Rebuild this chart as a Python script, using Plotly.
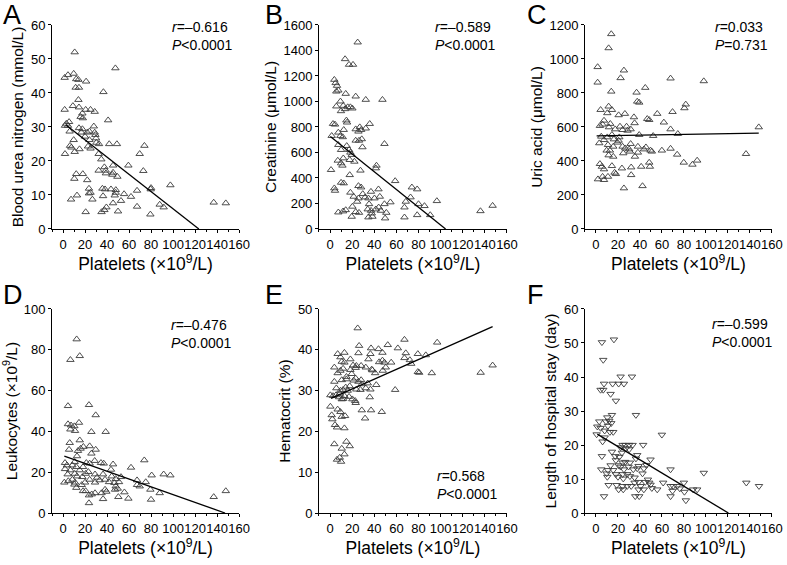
import plotly.graph_objects as go

FONT = "Arial, Liberation Sans, sans-serif"

## Panel A - blood urea nitrogen vs platelets
a_x = [10.6, 1.5, 4.5, 9.7, 12, 14, 21, 11.5, 14.5, 47.6,
       36.7, 14, 9, 14.5, 1.5, 20.6, 25, 28.8, 17.6, 16,
       5.5, 3, 41, 18, 1.8, 4.5, 14.5, 17.6, 28, 6,
       16.7, 22, 24, 28.8, 29.4, 30, 9.7, 20, 24, 30.3,
       32.7, 42, 49, 6.4, 7.6, 15, 22.7, 25, 74, 1.8,
       10.6, 32.4, 69.7, 34.8, 59.4, 45.5, 37.6, 73, 32.4, 38.8,
       45.5, 39, 12, 18, 44.8, 49.4, 10.3, 22, 80, 79.7,
       97.6, 23.6, 35.8, 38.2, 43.6, 25, 47.9, 48, 55.5, 67.3,
       12.7, 23.6, 36.4, 47, 61.8, 7.3, 26.7, 52.7, 45.5, 87.9,
       91.5, 67.3, 39.4, 37.6, 20.6, 35, 50, 79.4, 137, 148]
a_y = [52, 44.5, 45.3, 45.7, 44.1, 43.9, 43.4, 41.6, 41.6, 47.3,
       40.3, 38, 36.2, 35.8, 35.1, 35.1, 35.1, 34.5, 34, 33,
       31.5, 31, 32, 32.6, 30.4, 30.4, 29.7, 29.4, 30.2, 28.7,
       28.4, 28.4, 28.7, 28.4, 27.7, 26.7, 26.2, 27.2, 26.2, 25.4,
       25, 25, 25, 24.5, 24, 23.5, 24.3, 23.7, 24.5, 22.1,
       22.7, 22.1, 22.1, 20.5, 18.7, 18.7, 18.2, 17.1, 17.2, 17.2,
       16.6, 16.4, 16.2, 16.2, 16, 15.4, 14.8, 14.4, 12.1, 11.7,
       12.9, 11.9, 11.9, 11.7, 11.7, 10.7, 10.7, 11.5, 10.3, 11.3,
       9.9, 10.5, 9.7, 9.9, 9.5, 8.7, 8.7, 8.3, 7.6, 7.2,
       6.4, 6.6, 6.4, 5.6, 5, 5, 5.2, 4.3, 7.8, 7.6]
a_fit_x = [3, 123.5]
a_fit_y = [30.5, 0]

## Panel B - creatinine
b_x = [25, 13.6, 17.2, 20.8, 3.9, 5.1, 6.3, 7.5, 5.7, 14.2,
       23.2, 32.3, 47.4, 9.4, 12, 5.7, 16, 18.4, 20.2, 13.6,
       9.9, 14.8, 15.4, 2.7, 4.5, 35.9, 26.9, 23.2, 28.1, 32.3,
       12.4, 7.5, 25.7, 9.4, 1.5, 11.5, 28.7, 23.2, 26.2, 49.2,
       7.5, 15.1, 10, 17.2, 29.3, 18.4, 19.6, 12, 7, 17.8,
       22, 10, 11.2, 42, 41.4, 0.9, 27.5, 17.8, 58.9, 10,
       12.4, 25.7, 28.1, 74, 78.8, 43.8, 3.9, 4.5, 37, 18.4,
       29.6, 21.4, 31.7, 34.7, 25.7, 40.2, 45, 72.8, 96.6, 54.6,
       68.5, 24.5, 49.2, 80, 85.4, 35.3, 20.2, 44, 67.3, 34.1,
       41.4, 14.2, 37.1, 46, 50.9, 7.5, 11.8, 23.2, 26.2, 37.7,
       78.8, 90.6, 19.6, 34.7, 38.3, 49.8, 67.3, 136, 147]
b_y = [1464, 1333, 1289, 1289, 1171, 1145, 1124, 1087, 1079, 1061,
       1040, 1014, 1014, 1001, 967, 962, 956, 956, 946, 941,
       925, 852, 836, 825, 820, 825, 799, 783, 778, 789,
       778, 757, 765, 731, 731, 721, 705, 694, 694, 668,
       660, 652, 621, 621, 642, 600, 582, 555, 537, 542,
       529, 516, 498, 498, 477, 464, 459, 424, 377, 364,
       359, 338, 327, 327, 312, 312, 320, 301, 293, 286,
       275, 254, 249, 241, 241, 241, 254, 249, 220, 210,
       215, 215, 196, 196, 181, 196, 176, 170, 170, 155,
       155, 149, 144, 144, 128, 131, 139, 134, 128, 123,
       110, 110, 97, 92, 97, 84, 92, 141, 183]
b_fit_x = [0.3, 104.5]
b_fit_y = [726, 0]

## Panel C - uric acid
c_x = [13.9, 11.5, 1.5, 25.4, 1.5, 22.4, 67.8, 98, 13.9, 36.9,
       44.8, 37.5, 39.3, 81.6, 80.4, 11.5, 4.2, 14.5, 10.3, 69.6,
       26.3, 34.5, 55.7, 20.6, 46.6, 48.4, 35.1, 7.3, 6, 13,
       3.6, 27.8, 21.8, 11.8, 61.7, 17.5, 24.2, 31.5, 67.8, 28.7,
       74.4, 4.8, 10.3, 14.5, 21.2, 39.3, 52, 7.3, 16.3, 20.6,
       3, 19.4, 10.9, 31.5, 15.7, 24.2, 38.1, 26.6, 30.2, 45.4,
       43.6, 9.7, 12.7, 30.9, 49.6, 50.8, 24.8, 59.9, 67.8, 38.1,
       11.5, 15.7, 73.8, 35.4, 136.4, 3.6, 5.4, 14.5, 48.4, 49,
       79.8, 87.7, 92, 7.3, 23.6, 32, 41.1, 16.9, 18.1, 32,
       10.9, 1.8, 6, 7.3, 25.4, 42.3, 148]
c_y = [1147, 1064, 953, 933, 862, 888, 886, 870, 809, 803,
       831, 750, 744, 733, 711, 721, 701, 701, 682, 689,
       678, 658, 678, 670, 648, 642, 623, 638, 615, 619,
       607, 603, 603, 599, 627, 587, 583, 587, 587, 579,
       560, 544, 540, 554, 540, 554, 548, 524, 528, 520,
       505, 509, 495, 501, 485, 485, 485, 475, 469, 481,
       469, 462, 462, 456, 462, 456, 446, 462, 473, 450,
       434, 426, 438, 426, 442, 383, 367, 371, 391, 367,
       391, 379, 403, 352, 357, 363, 367, 332, 324, 318,
       308, 293, 308, 289, 240, 253, 599]
c_fit_x = [0.6, 148]
c_fit_y = [548, 564]

## Panel D - leukocytes
d_x = [12.4, 6.7, 15.2, 4.5, 23.6, 29.7, 14.5, 4.5, 7.3, 10.3,
       6.7, 10.9, 25.8, 38.8, 6.1, 15.2, 18.5, 24.2, 29.7, 5.5,
       16, 13.6, 25.8, 12.7, 73.9, 34.5, 37, 45.5, 1.8, 10.6,
       21.2, 24.2, 28.8, 3.6, 8.5, 12.1, 18.2, 61.8, 1.8, 6.7,
       15.2, 23, 43.6, 20.6, 10.6, 4.2, 29.1, 36.4, 80.6, 91.5,
       97.6, 12.7, 17.6, 30.9, 44.2, 52.7, 8.5, 24.2, 38.2, 47.9,
       33.3, 67.3, 75.2, 1.2, 4.8, 10.9, 20, 29.1, 41.8, 46.7,
       50.9, 10.3, 12.1, 17, 67.3, 69.7, 47.9, 49.7, 47.3, 38.2,
       79.4, 87.9, 35, 39.4, 55.8, 18.2, 20.6, 29.1, 26.1, 23.6,
       50.3, 59.4, 36.4, 80, 23.6, 137, 148]
d_y = [85.2, 75.1, 77, 52.5, 53, 48, 44.3, 43.6, 43, 42.6,
       41, 40.3, 39.8, 39.8, 34.4, 35.7, 32.5, 32.8, 31.1, 31.1,
       31.6, 30.5, 29.2, 27.9, 25.9, 24.6, 24.3, 23.9, 24.6, 25.1,
       24.6, 24.3, 25.6, 23.4, 23.4, 22.6, 22.6, 22.3, 21.6, 21,
       21, 20.2, 21.3, 19.3, 19.3, 19, 19, 19, 18.5, 19,
       18.5, 18, 17.7, 17.4, 18, 17.7, 16.4, 16.4, 16.4, 16.7,
       16.1, 16.1, 15.2, 15, 15.7, 15, 15, 15, 15.2, 14.8,
       15.2, 14, 12.4, 13.8, 13.8, 13.1, 13.1, 12, 11.5, 11.5,
       11.5, 9.8, 9.8, 10.5, 10.2, 10.8, 10.8, 9.8, 9.2, 8.7,
       7.9, 7.1, 6.9, 6.6, 4.9, 7.9, 10.8]
d_fit_x = [1.2, 147.3]
d_fit_y = [27.9, 0]

## Panel E - hematocrit
e_x = [25, 26.3, 67.3, 52.2, 96.9, 37.1, 43.8, 61.3, 47.4, 13,
       6.9, 25.7, 36.5, 68.5, 79.4, 9.4, 18.4, 67.3, 86.6, 34.7,
       72.2, 10.6, 13, 47.4, 49.2, 50.4, 55.3, 44.4, 73.4, 20.8,
       23.8, 28.1, 3.9, 32.3, 37.7, 18.4, 11.8, 38.3, 47.7, 23.2,
       147, 79.4, 80.6, 92, 136.2, 6.9, 9.4, 40.8, 19.6, 14.8,
       23.2, 28.1, 10.6, 3.9, 14.8, 21.4, 25.7, 34.1, 41.8, 28.7,
       17.8, 32.3, 5.7, 14.2, 58.9, 11.8, 36.5, 27.5, 23.8, 16,
       9.4, 8.8, 0.3, 5.4, 2.7, 13, 17.2, 8.2, 11.8, 10.6,
       20.2, 22.7, 35.9, 23.2, 0.3, 6.9, 28.7, 37.1, 46.8, 9.4,
       1.5, 10.6, 13.6, 2.1, 31.7, 4.5, 6.3, 13, 14.8, 17.8,
       3.9, 13, 10.6, 6.3, 8.8, 10]
e_y = [45.3, 41, 42.5, 41.2, 41.8, 40.4, 40.2, 40.4, 39.3, 39.3,
       39, 39.2, 39, 39.2, 39, 38.2, 37.7, 38, 38.7, 37.7,
       37.5, 37.1, 36.9, 37.4, 36.9, 35.7, 36.9, 37, 36.6, 36.2,
       36.1, 36.1, 35.7, 35.7, 35.2, 35.1, 35.4, 35, 34.9, 35.6,
       36.2, 34.6, 34.4, 34.3, 34.4, 34.3, 34.9, 34.3, 34.1, 33.4,
       33, 32.6, 32.6, 32.2, 32.8, 32.5, 32.2, 31.8, 31.4, 31.6,
       31.1, 30.6, 30.6, 30.8, 30.2, 30.2, 30.3, 30.2, 30.3, 30,
       30, 29.3, 28.9, 28.9, 28.7, 28.7, 28.5, 28.4, 28, 27.9,
       27.9, 27.5, 28.4, 27, 26.1, 25.4, 25.2, 25.2, 24.8, 24.8,
       24, 23.6, 23.8, 23, 23.2, 21.6, 21, 20.8, 17.5, 16.4,
       16.9, 14.4, 15.8, 13.1, 13.6, 12.6]
e_fit_x = [0.9, 147]
e_fit_y = [28.1, 45.7]

## Panel F - length of hospital stay
f_x = [16.3, 5.4, 6.6, 22.4, 32.7, 7.3, 15.1, 20.6, 25.4, 4.2,
       6.6, 13.3, 18.1, 36.3, 14.5, 10.3, 12.1, 3, 9.1, 13.9,
       10.9, 1.2, 4.2, 7.9, 12.7, 15.7, 59.9, 0.6, 7.9, 6,
       24.2, 26.6, 30.2, 33.3, 42.9, 22.4, 27.2, 30.2, 14.5, 23.6,
       37.5, 17.5, 21.2, 5.4, 49.6, 36.3, 18.1, 26.6, 24.2, 30.9,
       13.3, 20.6, 45.9, 22.4, 29.6, 38.7, 4.8, 10.9, 15.7, 25.4,
       33.9, 37.5, 43.5, 67.8, 98, 9.7, 18.1, 24.2, 28.4, 42.3,
       10.3, 20, 24.8, 30.9, 35.1, 47.2, 44.8, 48.4, 38.7, 35.1,
       61.1, 79.9, 88.3, 92, 136.7, 148.2, 11.5, 18.8, 24.2, 28.4,
       32, 40.5, 49.6, 50.8, 70.2, 73.8, 67.8, 76.2, 20.6, 24.8,
       38.7, 43.5, 55.7, 80.4, 69.6, 81.7, 67.8, 35.7, 39.3, 7.3]
f_y = [51, 50.2, 45, 40.1, 40.1, 38, 38, 38, 38, 36.2,
       36.2, 35, 33, 28.8, 28.8, 28.1, 27.1, 26.9, 26.9, 26.4,
       25.6, 25.4, 25, 24.2, 23.8, 23.8, 23, 23.1, 22.2, 21,
       20, 20, 20, 20, 20, 19.3, 19, 18.7, 18, 17.7,
       17, 16.7, 16.5, 16.7, 15.7, 16, 15.5, 15, 14.8, 14.8,
       14, 14, 14.1, 13.6, 13.6, 13.8, 12.8, 12.6, 12.6, 12.8,
       12.8, 13.1, 13.1, 12.8, 11.8, 11.6, 11.4, 11.4, 11.4, 11.6,
       10.6, 10.6, 10.1, 10.8, 10.4, 9.8, 9.1, 8.9, 9.1, 8.9,
       8.9, 8.9, 6.9, 6.9, 8.9, 7.9, 8.2, 8.2, 7.9, 7.9,
       7.9, 7.9, 8.3, 7.3, 7.9, 7.9, 7.9, 7.2, 6.9, 6.9,
       6.9, 6.9, 6.9, 6.2, 6.5, 3.7, 4.9, 4.9, 4.9, 4.9]
f_fit_x = [1.2, 120.4]
f_fit_y = [23.2, 0]

x_title = "Platelets (×10<sup>9</sup>/L)"
x_ticks = [0, 20, 40, 60, 80, 100, 120, 140, 160]

# letter, x, y, fit x, fit y, y title, y max, y step, marker, stats lines
panels = [
    ("A", a_x, a_y, a_fit_x, a_fit_y, "Blood urea nitrogen (mmol/L)", 60, 10, "triangle-up-open",
     ["<i>r</i>=–0.616", "<i>P</i>&lt;0.0001"]),
    ("B", b_x, b_y, b_fit_x, b_fit_y, "Creatinine (μmol/L)", 1600, 200, "triangle-up-open",
     ["<i>r</i>=–0.589", "<i>P</i>&lt;0.0001"]),
    ("C", c_x, c_y, c_fit_x, c_fit_y, "Uric acid (μmol/L)", 1200, 200, "triangle-up-open",
     ["<i>r</i>=0.033", "<i>P</i>=0.731"]),
    ("D", d_x, d_y, d_fit_x, d_fit_y, "Leukocytes (×10<sup>9</sup>/L)", 100, 20, "triangle-up-open",
     ["<i>r</i>=–0.476", "<i>P</i>&lt;0.0001"]),
    ("E", e_x, e_y, e_fit_x, e_fit_y, "Hematocrit (%)", 50, 10, "triangle-up-open",
     ["<i>r</i>=0.568", "<i>P</i>&lt;0.0001"]),
    ("F", f_x, f_y, f_fit_x, f_fit_y, "Length of hospital stay (day)", 60, 10, "triangle-down-open",
     ["<i>r</i>=–0.599", "<i>P</i>&lt;0.0001"]),
]

W, H = 787, 565
col_dom = [[0.0661, 0.3037], [0.4053, 0.6442], [0.7433, 0.9809]]
row_dom = [[0.5947, 0.9558], [0.0920, 0.4531]]
letter_x = [1, 263, 525]
letter_y = [15, 295]
# pixel position (left, centre of first line) of the r/P text
stat_pos = [(170, 27), (433, 27), (713, 27), (169, 325), (435, 476), (710, 324)]

fig = go.Figure()
layout = dict(template="none", width=W, height=H, margin=dict(l=0, r=0, t=0, b=0),
              plot_bgcolor="white", paper_bgcolor="white", showlegend=False,
              font=dict(family=FONT, color="black"))
annotations = []

for i, (letter, px, py, fx, fy, ytitle, ymax, ystep, symbol, stats) in enumerate(panels):
    n = i + 1
    row, col = divmod(i, 3)
    xa = "x" if n == 1 else f"x{n}"
    ya = "y" if n == 1 else f"y{n}"

    fig.add_trace(go.Scatter(x=px, y=py, mode="markers", xaxis=xa, yaxis=ya,
                             marker=dict(symbol=symbol, size=6.5, color="#3a3a3a",
                                         line=dict(width=0.9))))
    fig.add_trace(go.Scatter(x=fx, y=fy, mode="lines", xaxis=xa, yaxis=ya,
                             line=dict(color="black", width=1.3)))

    layout[f"xaxis{n}"] = dict(domain=col_dom[col], anchor=ya, range=[-10, 160], automargin=False,
                               tickvals=x_ticks, tickangle=0, showgrid=False, zeroline=False,
                               showline=True, linecolor="black", linewidth=1,
                               ticks="outside", ticklen=3, tickwidth=1, tickcolor="black",
                               minor=dict(ticks="outside", ticklen=2, dtick=10, tick0=0,
                                          tickcolor="black", showgrid=False),
                               tickfont=dict(size=13), title=dict(text=x_title, font=dict(size=17.5), standoff=6))
    layout[f"yaxis{n}"] = dict(domain=row_dom[row], anchor=xa, range=[0, ymax], dtick=ystep, automargin=False,
                               showgrid=False, zeroline=False,
                               showline=True, linecolor="black", linewidth=1,
                               ticks="outside", ticklen=3, tickwidth=1, tickcolor="black",
                               tickfont=dict(size=13), title=dict(text=ytitle, font=dict(size=15.5), standoff=3))

    annotations.append(dict(text=letter, xref="paper", yref="paper",
                            x=letter_x[col] / W, y=1 - letter_y[row] / H,
                            xanchor="left", yanchor="middle", showarrow=False,
                            font=dict(size=27)))
    sx, sy = stat_pos[i]
    for k, line in enumerate(stats):
        annotations.append(dict(text=line, xref="paper", yref="paper",
                                x=sx / W, y=1 - (sy + 18 * k) / H,
                                xanchor="left", yanchor="middle", showarrow=False,
                                font=dict(size=14)))

layout["annotations"] = annotations
fig.update_layout(**layout)
# page body has a default margin; drop it so the figure sits at the window corner
fig.write_html("out.html", config={"displayModeBar": False},
               post_script="document.body.style.margin='0';")
